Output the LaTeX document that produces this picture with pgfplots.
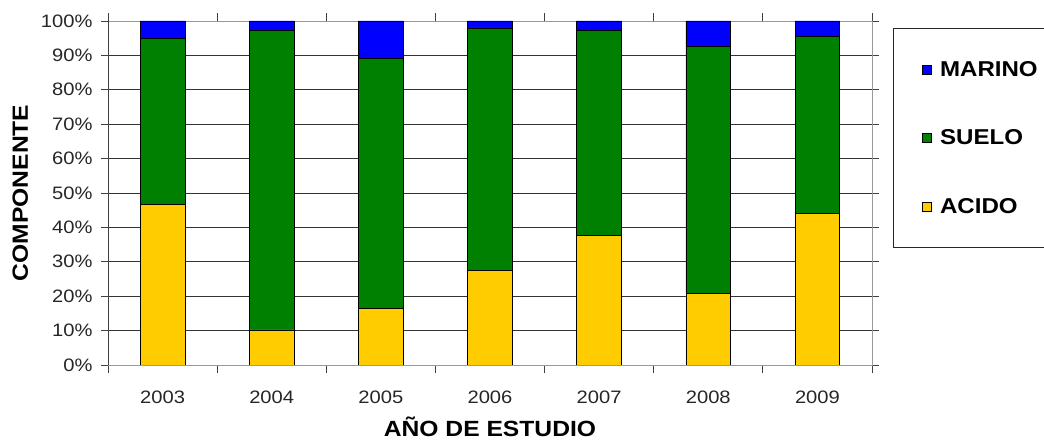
\documentclass[border=0pt]{standalone}
\usepackage{pgfplots}
\pgfplotsset{compat=1.18}
\usepackage{fontspec}
\setmainfont{Liberation Sans}[FakeStretch=1.12]

\definecolor{marino}{HTML}{0000FF}
\definecolor{suelo}{HTML}{008000}
\definecolor{acido}{HTML}{FFCC00}

\begin{document}
\begin{tikzpicture}
    \useasboundingbox (-108pt,-76pt) rectangle (936pt,365pt);
    \begin{axis}[
        ybar stacked,
        scale only axis,
        width=764pt, height=344pt,
        bar width=0.41,
        ymin=0, ymax=100,
        xmin=-0.5, xmax=6.5,
        ytick={0,10,...,100},
        yticklabel={\pgfmathprintnumber{\tick}\%},
        xtick={0,...,6},
        xticklabels={2003,2004,2005,2006,2007,2008,2009},
        minor xtick={-0.5,0.5,...,6.5},
        major x tick style={draw=none},
        minor x tick style={black!75, line width=0.9pt},
        y tick style={black!75, line width=0.9pt},
        tick align=outside,
        major tick length=7pt,
        minor tick length=8pt,
        ymajorgrids,
        major grid style={black!80, line width=0.9pt},
        axis line style={black!40, line width=0.9pt},
        /pgf/number format/assume math mode=true,
        tick label style={font=\fontsize{18}{18}\selectfont, black!85},
        xticklabel style={yshift=-15pt},
        yticklabel style={xshift=-5pt},
        xlabel={\bfseries AÑO DE ESTUDIO},
        ylabel={\bfseries COMPONENTE},
        label style={font=\fontsize{22}{22}\selectfont},
        xlabel style={yshift=-7pt},
        ylabel style={yshift=6pt},
        reverse legend,
        legend image code/.code={
            \draw[#1, draw=black, line width=0.6pt] (0pt,-4.5pt) rectangle (9pt,4.5pt);
        },
        legend style={
            at={(1.0275,0.98)}, anchor=north west,
            draw=black!85, line width=0.9pt,
            font=\bfseries\fontsize{21.5}{21.5}\selectfont,
            row sep=48pt,
            /tikz/column sep=6pt,
            inner xsep=29pt, inner ysep=31pt,
            nodes={text width=135pt, align=left, inner sep=2pt},
        },
        legend cell align=left,
        every axis plot/.append style={draw=black, line width=0.7pt},
    ]
        % ACIDO
        \addplot[fill=acido] coordinates {
            (0,46.6) (1,10.2) (2,16.5) (3,27.5) (4,37.7) (5,20.8) (6,44.1)
        };
        % SUELO
        \addplot[fill=suelo] coordinates {
            (0,48.3) (1,87.0) (2,72.7) (3,70.5) (4,59.5) (5,71.9) (6,51.3)
        };
        % MARINO
        \addplot[fill=marino] coordinates {
            (0,5.1) (1,2.8) (2,10.8) (3,2.0) (4,2.8) (5,7.3) (6,4.6)
        };
        \legend{ACIDO,SUELO,MARINO}
        \draw[black!75, line width=0.9pt] (rel axis cs:0,0) -- (rel axis cs:0,1);
        \draw[black!75, line width=0.9pt] (rel axis cs:0,0) -- (rel axis cs:1,0);
    \end{axis}
\end{tikzpicture}
\end{document}
